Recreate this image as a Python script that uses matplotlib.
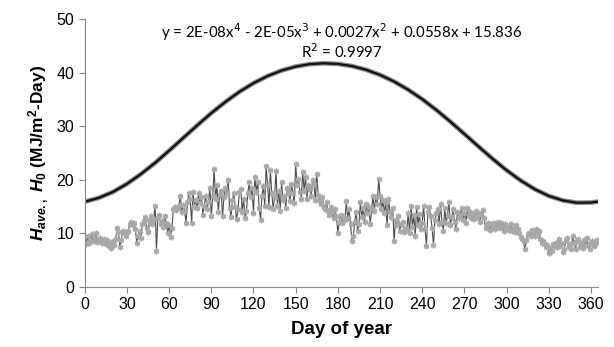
import matplotlib
matplotlib.use("Agg")
import matplotlib.pyplot as plt

plt.rcParams['font.family'] = ['Liberation Sans', 'DejaVu Sans']
plt.rcParams['mathtext.fontset'] = 'custom'
plt.rcParams['mathtext.rm'] = 'Liberation Sans:bold'
plt.rcParams['mathtext.it'] = 'Liberation Sans:italic:bold'
plt.rcParams['mathtext.bf'] = 'Liberation Sans:bold'

# extraterrestrial radiation H0, read every ~10 days
h0_days = [1, 10, 20, 30, 40, 50, 60, 70, 80, 90, 100, 110, 120, 130, 140, 150,
           160, 170, 180, 190, 200, 210, 220, 230, 240, 250, 260, 270, 280, 290,
           300, 310, 320, 330, 340, 350, 360, 365]
h0_vals = [15.98, 16.63, 17.73, 19.24, 21.08, 23.16, 25.44, 27.81, 30.17, 32.45,
           34.54, 36.43, 38.04, 39.37, 40.40, 41.14, 41.59, 41.75, 41.63, 41.23,
           40.55, 39.58, 38.34, 36.82, 35.05, 33.04, 30.85, 28.55, 26.21, 23.93,
           21.78, 19.87, 18.25, 16.99, 16.15, 15.73, 15.76, 15.93]

# daily average measured radiation H_ave, days 1..365
h_ave = [
    8.0, 9.5, 8.2, 8.8, 9.8, 8.5, 9.0, 10.0, 8.4, 8.8,
    9.2, 8.3, 8.6, 9.0, 8.0, 8.7, 7.6, 8.2, 7.2, 8.5,
    7.8, 9.0, 11.0, 10.2, 7.5, 8.8, 10.5, 10.0, 9.6, 10.2,
    10.5, 11.8, 12.2, 11.5, 11.9, 10.8, 8.3, 9.5, 10.5, 9.2,
    11.8, 12.3, 13.0, 11.0, 10.2, 12.5, 13.2, 11.8, 12.6, 15.2,
    6.8, 12.8, 13.5, 11.8, 12.4, 11.2, 13.2, 12.0, 10.0, 11.5,
    9.4, 11.0, 14.5, 15.0, 14.3, 14.8, 15.2, 17.0, 14.0, 15.3,
    14.2, 12.0, 15.8, 17.5, 16.5, 12.0, 17.8, 15.0, 16.2, 14.8,
    17.5, 15.6, 16.8, 13.5, 15.2, 17.0, 14.6, 15.8, 18.5, 13.2,
    17.0, 22.0, 16.5, 19.0, 14.0, 17.2, 18.0, 13.2, 16.8, 18.5,
    17.5, 20.0, 14.8, 13.0, 16.2, 17.5, 15.0, 12.6, 14.5, 17.8,
    18.2, 14.0, 16.5, 12.8, 14.2, 17.5, 19.5, 16.8, 18.5, 13.8,
    20.5, 17.8, 19.5, 14.8, 12.5, 17.0, 18.8, 15.2, 22.5, 19.0,
    15.0, 21.8, 17.5, 14.6, 16.8, 21.6, 15.2, 18.0, 14.2, 19.5,
    16.2, 17.0, 14.8, 18.5, 17.5, 16.0, 19.2, 17.6, 15.6, 23.0,
    19.0, 20.2, 17.8, 16.5, 21.5, 18.0, 20.5, 16.5, 19.0, 18.2,
    17.0, 20.0, 19.2, 16.2, 21.0, 17.2, 16.0, 15.5, 16.8, 15.0,
    14.6, 15.8, 14.2, 13.5, 15.0, 14.0, 12.8, 14.6, 13.2, 10.0,
    12.2, 13.5, 12.0, 13.0, 12.5, 16.0, 12.8, 14.5, 11.8, 8.5,
    9.5, 12.2, 14.0, 10.5, 11.8, 15.8, 13.0, 14.8, 12.2, 15.5,
    13.8, 15.0, 11.8, 14.5, 17.0, 14.2, 16.8, 15.5, 20.2, 17.0,
    14.5, 16.2, 13.8, 15.8, 11.5, 16.5, 14.0, 13.0, 14.8, 8.5,
    12.5, 11.5, 13.2, 10.5, 11.8, 12.2, 10.2, 11.0, 10.6, 13.8,
    10.0, 15.2, 11.2, 13.5, 9.5, 15.0, 11.5, 13.6, 10.8, 12.0,
    15.2, 10.8, 7.6, 14.0, 15.0, 13.2, 11.0, 7.8, 12.5, 13.8,
    14.5, 11.8, 15.5, 12.2, 10.5, 14.8, 12.0, 13.5, 15.8, 11.5,
    13.0, 14.6, 12.2, 10.8, 14.0, 12.8, 13.5, 14.8, 12.5, 13.8,
    12.0, 14.8, 13.2, 14.0, 12.8, 13.6, 12.6, 14.2, 13.0, 13.8,
    12.2, 13.5, 14.3, 12.8, 11.0, 11.5, 12.0, 10.6, 11.8, 11.2,
    12.0, 10.8, 11.6, 12.2, 11.0, 12.0, 11.4, 10.5, 11.8, 11.2,
    11.2, 10.6, 11.8, 10.4, 11.0, 10.2, 11.5, 10.8, 10.0, 9.4,
    9.0, 8.5, 7.0, 8.8, 9.8, 10.0, 9.5, 10.6, 10.2, 9.6,
    10.8, 9.8, 10.4, 9.0, 8.2, 8.6, 8.0, 7.5, 7.8, 6.4,
    7.2, 6.8, 8.0, 7.6, 8.2, 7.4, 9.0, 7.6, 8.2, 6.6,
    7.0, 8.8, 9.2, 7.5, 8.0, 7.0, 9.5, 8.2, 7.0, 8.6,
    9.0, 7.4, 8.2, 7.2, 8.8, 7.6, 9.2, 7.8, 7.0, 8.2,
    8.5, 7.6, 8.0, 8.8, 8.5,
]
days = list(range(1, len(h_ave) + 1))

x_ticks = list(range(0, 361, 30))
y_ticks = [0, 10, 20, 30, 40, 50]

fig = plt.figure(figsize=(6.14, 3.47), dpi=100)
ax = fig.add_axes([0.138, 0.173, 0.836, 0.772])

ax.plot(h0_days, h0_vals, color='#8c8c8c', lw=3.4, solid_capstyle='round')
ax.plot(h0_days, h0_vals, color='#111111', lw=1.6)

ax.plot(days, h_ave, color='#4d4d4d', lw=0.8, marker=(6, 2, 0), ms=4,
        mec='#a8a8a8', mew=1.1)

ax.text(183, 47.6, r"y = 2E-08x$^4$ - 2E-05x$^3$ + 0.0027x$^2$ + 0.0558x + 15.836",
        ha='center', va='center', fontsize=10.8, family='Lato',
        math_fontfamily='dejavusans')
ax.text(183, 44.0, r"R$^2$ = 0.9997", ha='center', va='center', fontsize=10.8,
        family='Lato', math_fontfamily='dejavusans')

ax.set_xlim(0, 365)
ax.set_ylim(0, 50)
ax.set_xticks(x_ticks)
ax.set_yticks(y_ticks)
ax.tick_params(labelsize=11.5, color='#888888', length=4, direction='out')
for s in ['top', 'right']:
    ax.spines[s].set_visible(False)
for s in ['left', 'bottom']:
    ax.spines[s].set_color('#888888')

ax.set_xlabel("Day of year", fontsize=13.5, fontweight='bold', labelpad=6)
ax.set_ylabel(r"$\mathit{H}_{\mathit{ave.,}}$ $\mathit{H}_{\mathit{0}}$ (MJ/m$^{2}$-Day)",
              fontsize=12.5, fontweight='bold', labelpad=4)

fig.savefig("out.png", dpi=100)
